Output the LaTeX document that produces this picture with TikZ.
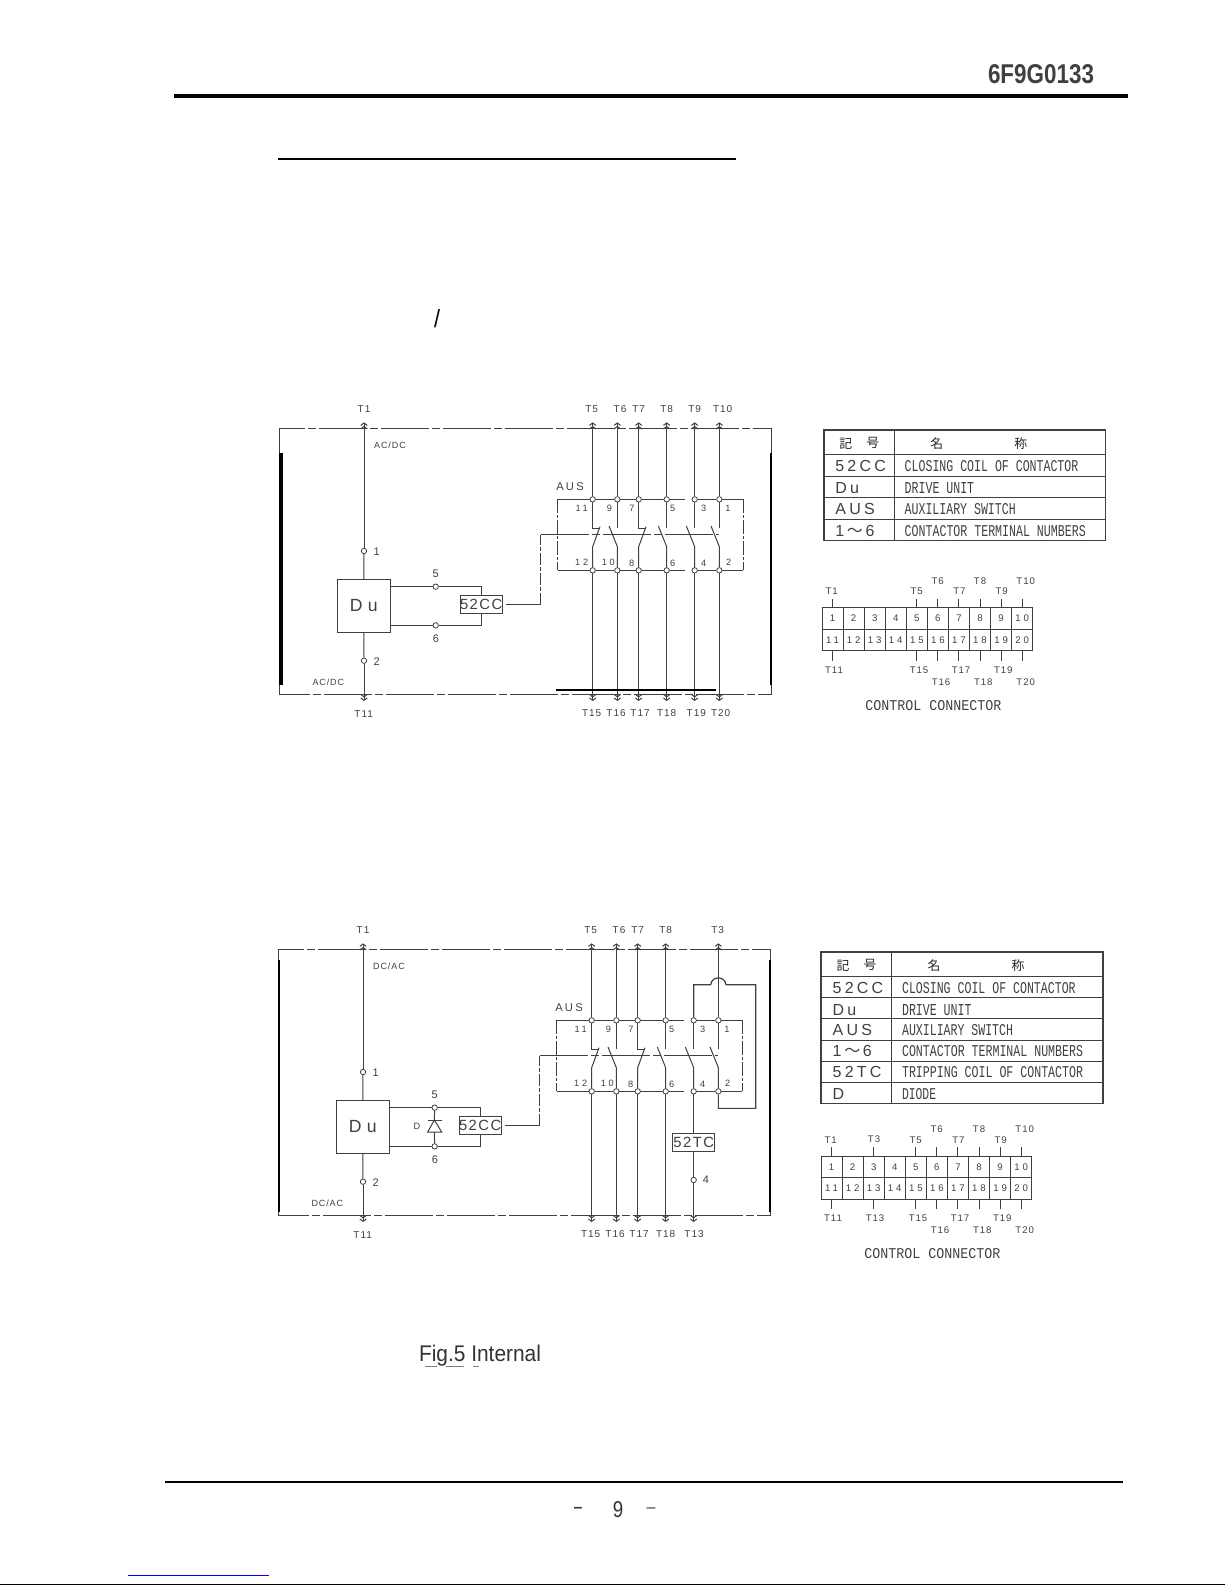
\documentclass[tikz,border=0pt]{standalone}
\usepackage{fontspec}
\usepackage{graphicx}
\usetikzlibrary{arrows.meta,calc}
\setmainfont{Liberation Sans}
\newfontfamily\wa[LetterSpace=10]{Liberation Sans}
\newfontfamily\wb[LetterSpace=20]{Liberation Sans}
\newfontfamily\wc[LetterSpace=30]{Liberation Sans}
\newfontfamily\mono{Liberation Mono}
\newfontfamily\cjk{Noto Sans CJK JP}
\definecolor{inkc}{gray}{0.25}
\newcommand{\fs}[1]{\fontsize{#1}{#1}\selectfont}
\newcommand{\stretched}[3]{\resizebox{#1pt}{#2pt}{\mono #3}}
\tikzset{
  wire/.style={draw=inkc,line width=.5pt},
  dashwire/.style={wire,dash pattern=on 7pt off 1pt on 1.5pt off 1pt},
  framewire/.style={wire,dash pattern=on 24pt off 1.5pt on 4pt off 1.5pt},
  term/.style={circle,draw=inkc,fill=white,line width=.4pt,minimum size=2.7pt,inner sep=0pt},
  barb/.style={-{Straight Barb[length=1.2pt,width=3.2pt] Straight Barb[length=1.2pt,width=3.2pt]}},
  lbl/.style={inner sep=0pt,text=inkc},
  boxn/.style={draw=inkc,line width=.5pt,fill=white,inner sep=0pt,text=inkc},
  cellb/.style={draw=inkc,line width=.5pt,inner sep=0pt,text=inkc,minimum width=10.53pt,minimum height=10.75pt},
  bigzoom/.style={x=0.16667pt,y=-0.16667pt}
}
% common part of both circuits, in zoom units
\newcommand{\circuit}[1]{
  \draw[framewire] (58,116) rectangle (1533,912);
  \foreach \n/\x in {T15/995,T16/1068,T17/1140,T18/1220}
    \node[lbl] (\n) at (\x,970) {\fs{5}\wa \n};
  \foreach \n/\x in {T5/995,T6/1080,T7/1136,T8/1220}
    \node[lbl] (\n) at (\x,58) {\fs{5}\wa \n};
  \node[lbl] (T1) at (312,58) {\fs{5}\wa T1};
  \node[lbl] (T11) at (311,972) {\fs{5}\wa T11};
  \node[lbl] (acu) at (390,165) {\fs{4.5}\wa #1};
  \node[lbl] (acl) at (205,877) {\fs{4.5}\wa #1};
  \coordinate (tipa) at (312,97);
  \coordinate (tipb) at (312,933);
  \node[term] (one) at (312,483) {};
  \node[term] (two) at (312,812) {};
  \node[lbl] (onet) at (350,485) {\fs{5.5}1};
  \node[lbl] (twot) at (350,815) {\fs{5.5}2};
  \node[boxn,minimum width=26.2pt,minimum height=26.3pt] (du) at (311.5,648) {\fs{8.8}\wc Du};
  \draw[wire,barb] (one) -- (tipa);
  \draw[wire] (one) -- (du);
  \draw[wire] (du) -- (two);
  \draw[wire,barb] (two) -- (tipb);
  \node[boxn,minimum width=20.8pt,minimum height=8.8pt] (cc) at (663.5,643.5) {\fs{7.4}\wa 52CC};
  \node[term] (five) at (527,590) {};
  \node[term] (six) at (527,706) {};
  \node[lbl] (fivet) at (527,552) {\fs{5.5}5};
  \node[lbl] (sixt) at (528,747) {\fs{5.5}6};
  \draw[wire] (du.east |- five) -- (five) -- (five -| cc.north) -- (cc.north);
  \draw[wire] (du.east |- six) -- (six) -- (six -| cc.south) -- (cc.south);
  \coordinate (ctla) at (842,643.5);
  \coordinate (ctlb) at (842,434);
  \coordinate (ctlc) at (1378,434);
  \draw[wire,shorten <=1.6pt] (cc.east) -- (ctla);
  \draw[wire,dash pattern=on 6pt off 1pt on 2pt off 1pt] (ctla) -- (ctlb);
  \draw[framewire] (ctlb) -- (ctlc);
  \node[lbl] (aus) at (930,290) {\fs{5.6}\wb AUS};
  \foreach \i/\x in {1/998,2/1072,3/1136,4/1220,5/1304,6/1378}{
    \node[term] (tc\i) at (\x,328) {};
    \node[term] (bc\i) at (\x,541) {};
  }
  \draw[wire] (1275,328) -- (tc4) -- (tc3) -- (tc2) -- (tc1) -- (893,328);
  \draw[wire] (1275,541) -- (bc4) -- (bc3) -- (bc2) -- (bc1) -- (893,541);
  \draw[wire] (tc5) -- (tc6) -- (1450,328);
  \draw[wire] (bc5) -- (bc6) -- (1450,541);
  \draw[dashwire] (893,328) -- (893,541);
  \draw[dashwire] (1450,328) -- (1450,541);
  \foreach \i/\x in {1/998,3/1136}{
    \draw[wire] (tc\i) -- (\x,415) -- ++(22,0);
    \draw[wire] (\x+22,410) -- (\x,470) -- (bc\i);
  }
  \foreach \i/\x in {2/1072,4/1220,5/1304,6/1378}{
    \draw[wire] (tc\i) -- (\x,415);
    \draw[wire] (\x-25,408) -- (\x,470) -- (bc\i);
  }
  \foreach \n/\x/\y in {11/965/355,9/1048/355,7/1116/355,5/1238/355,3/1331/355,1/1404/355,
                        12/965/518,10/1045/518,8/1115/520,6/1238/520,4/1331/521,2/1406/518}
    \node[lbl] (cn\n) at (\x,\y) {\fs{4.6}\wc \n};
  \foreach \i/\x in {1/998,2/1072,3/1136,4/1220}{
    \coordinate (tt\i) at (\x,97);
    \coordinate (bt\i) at (\x,933);
    \draw[wire,barb] (tc\i) -- (tt\i);
    \draw[wire,barb] (bc\i) -- (bt\i);
  }
}
% legend table rows
\newcommand{\tabhead}[2]{
  \draw[wire,line width=.6pt] (#1,45) rectangle (917,#2);
  \draw[wire,line width=.6pt] (283,45) -- (283,#2);
  \draw[wire] (#1,118) -- (917,118);
  \node[lbl,text=black!85] (jia) at (137,85) {\fs{6.4}\cjk 記};
  \node[lbl,text=black!85] (jib) at (218,85) {\fs{6.4}\cjk 号};
  \node[lbl,text=black!85] (jic) at (410,85) {\fs{6.4}\cjk 名};
  \node[lbl,text=black!85] (jid) at (662,85) {\fs{6.4}\cjk 称};
}
\newcommand{\symb}[3]{\node[lbl,anchor=west] (sy#1) at (105,#2) {\fs{8}\wb #3};}
\newcommand{\desc}[4]{\node[lbl,anchor=west] (de#1) at (313,#2) {\stretched{#3}{5.5}{#4}};}
% control connector
\newcommand{\ccon}{
  \foreach \n in {1,...,10}{
    \pgfmathsetmacro{\cx}{66+63.2*(\n-0.5)}
    \pgfmathtruncatemacro{\m}{\n+10}
    \node[cellb] (top\n) at (\cx,610.5) {\fs{4.8}\wc \n};
    \node[cellb] (bot\m) at (\cx,675) {\fs{4.8}\wc \m};
  }
  \foreach \n/\lx/\ly in {1/95/530,5/350/530,6/413/499,7/478/530,8/540/499,9/605/530,10/677/498}{
    \draw[wire] (top\n.north) -- ++(0,-26);
    \node[lbl] (lt\n) at (\lx,\ly) {\fs{4.8}\wa T\n};
  }
  \foreach \n/\lx/\ly in {11/102/765,15/357/765,16/423/802,17/483/765,18/550/802,19/610/765,20/677/802}{
    \draw[wire] (bot\n.south) -- ++(0,28);
    \node[lbl] (lb\n) at (\lx,\ly) {\fs{4.8}\wa T\n};
  }
  \node[lbl] (ccname) at (400,872) {\stretched{68}{5}{CONTROL CONNECTOR}};
}
\begin{document}
\begin{tikzpicture}[x=0.5pt,y=-0.5pt]
\useasboundingbox (0,0) rectangle (1225,1585);
\fill[white] (0,0) rectangle (1225,1585);
% header
\node[inner sep=0pt,text=black!75] (docno) at (1041,74.5) {\resizebox{53pt}{9.5pt}{\bfseries 6F9G0133}};
\draw[line width=2pt] (174,96) -- (1128,96);
\draw[line width=1pt] (278,158.7) -- (736,158.7);
\node[inner sep=0pt] (slash) at (437,319) {\resizebox{3pt}{9pt}{/}};
% circuit 1
\begin{scope}[shift={(260,390)},bigzoom,name prefix=a-]
  \circuit{AC/DC}
  \node[lbl] (T9) at (1304,58) {\fs{5}\wa T9};
  \node[lbl] (T10) at (1388,58) {\fs{5}\wa T10};
  \node[lbl] (T19) at (1309,970) {\fs{5}\wa T19};
  \node[lbl] (T20) at (1382,970) {\fs{5}\wa T20};
  \draw[wire,barb] (tc5) -- (1304,97);
  \draw[wire,barb] (tc6) -- (1378,97);
  \draw[wire,barb] (bc5) -- (1304,933);
  \draw[wire,barb] (bc6) -- (1378,933);
  \fill[black] (56,190) rectangle (68,885);
  \fill[black] (1530,190) rectangle (1537,885);
  \fill[black] (888,896) rectangle (1368,902);
\end{scope}
% circuit 2
\begin{scope}[shift={(259,911)},bigzoom,name prefix=b-]
  \circuit{DC/AC}
  \node[lbl] (T3) at (1376,57) {\fs{5}\wa T3};
  \node[lbl] (T13) at (1305,970) {\fs{5}\wa T13};
  \draw[wire,barb] (tc6) -- (1378,97);
  \coordinate (ja) at (1304,221);
  \coordinate (jb) at (1490,221);
  \coordinate (jc) at (1490,592);
  \coordinate (jd) at (1378,592);
  \draw[wire,line width=.6pt] (tc5) -- (ja) -- (1355,221) .. controls (1358,194) and (1398,194) .. (1401,221) -- (jb) -- (jc) -- (jd) -- (bc6);
  \node[boxn,minimum width=20.8pt,minimum height=8.8pt] (tc) at (1304,694.5) {\fs{7.4}\wa 52TC};
  \node[term] (fourc) at (1304,807) {};
  \node[lbl] (fourt) at (1341,806) {\fs{5.5}4};
  \draw[wire] (bc5) -- (tc);
  \draw[wire] (tc) -- (fourc);
  \draw[wire,barb] (fourc) -- (1304,933);
  \node[lbl] (dlab) at (474,647) {\fs{4.6}D};
  \draw[wire] (five) -- (526,627);
  \draw[wire] (526,663) -- (six);
  \draw[wire] (506,627) -- (548,627);
  \draw[wire] (526,627) -- (506,663) -- (548,663) -- cycle;
  \fill[black] (57,147) rectangle (63,902);
  \fill[black] (1530,147) rectangle (1535,902);
\end{scope}
% legend 1
\begin{scope}[shift={(800,415)},bigzoom,name prefix=c-]
  \tabhead{72}{377}
  \draw[wire] (72,183) -- (917,183);
  \draw[wire] (72,248) -- (917,248);
  \draw[wire] (72,313) -- (917,313);
  \symb{a}{152}{52CC}
  \symb{b}{218}{Du}
  \symb{c}{282}{AUS}
  \symb{d}{347}{1\,{\cjk ～}\,6}
  \desc{a}{153}{86.8}{CLOSING COIL OF CONTACTOR}
  \desc{b}{220}{34.7}{DRIVE UNIT}
  \desc{c}{283}{55.5}{AUXILIARY SWITCH}
  \desc{d}{347}{90.5}{CONTACTOR TERMINAL NUMBERS}
  \ccon
\end{scope}
% legend 2
\begin{scope}[shift={(797.33,937)},bigzoom,name prefix=d-]
  \tabhead{71}{499}
  \draw[wire] (71,182) -- (917,182);
  \draw[wire] (71,245) -- (917,245);
  \draw[wire] (71,309) -- (917,309);
  \draw[wire] (71,373) -- (917,373);
  \draw[wire] (71,437) -- (917,437);
  \symb{a}{152}{52CC}
  \symb{b}{218}{Du}
  \symb{c}{279}{AUS}
  \symb{d}{343}{1\,{\cjk ～}\,6}
  \symb{e}{406}{52TC}
  \symb{f}{471}{D}
  \desc{a}{153}{86.8}{CLOSING COIL OF CONTACTOR}
  \desc{b}{218}{34.7}{DRIVE UNIT}
  \desc{c}{280}{55.5}{AUXILIARY SWITCH}
  \desc{d}{343}{90.5}{CONTACTOR TERMINAL NUMBERS}
  \desc{e}{406}{90.5}{TRIPPING COIL OF CONTACTOR}
  \desc{f}{471}{17}{DIODE}
\end{scope}
\begin{scope}[shift={(799,963.33)},bigzoom,name prefix=e-]
  \ccon
  \draw[wire] (top3.north) -- ++(0,-26);
  \draw[wire] (bot13.south) -- ++(0,28);
  \node[lbl] (lt3) at (225,527) {\fs{4.8}\wa T3};
  \node[lbl] (lb13) at (228,765) {\fs{4.8}\wa T13};
\end{scope}
% footer
\node[lbl,text=black!80,anchor=base] (figcap) at (480,1361) {\resizebox{61pt}{8.2pt}{Fig.5 Internal}};
\draw[gray,line width=.4pt] (425,1366) -- (437,1366) (446,1366) -- (464,1366) (473,1366) -- (479,1366);
\draw[line width=1pt] (165,1482) -- (1123,1482);
\node[lbl,text=black!80] (dasha) at (578,1510) {\fs{8}\bfseries –};
\node[lbl,text=black!80] (page) at (618,1510) {\resizebox{5.2pt}{8pt}{9}};
\node[lbl,text=black!80] (dashb) at (651,1510) {\fs{8}–};
\draw[blue,line width=.5pt] (127.5,1575) -- (269,1575);
\draw[line width=.5pt] (0,1584) -- (1225,1584);
\end{tikzpicture}
\end{document}
